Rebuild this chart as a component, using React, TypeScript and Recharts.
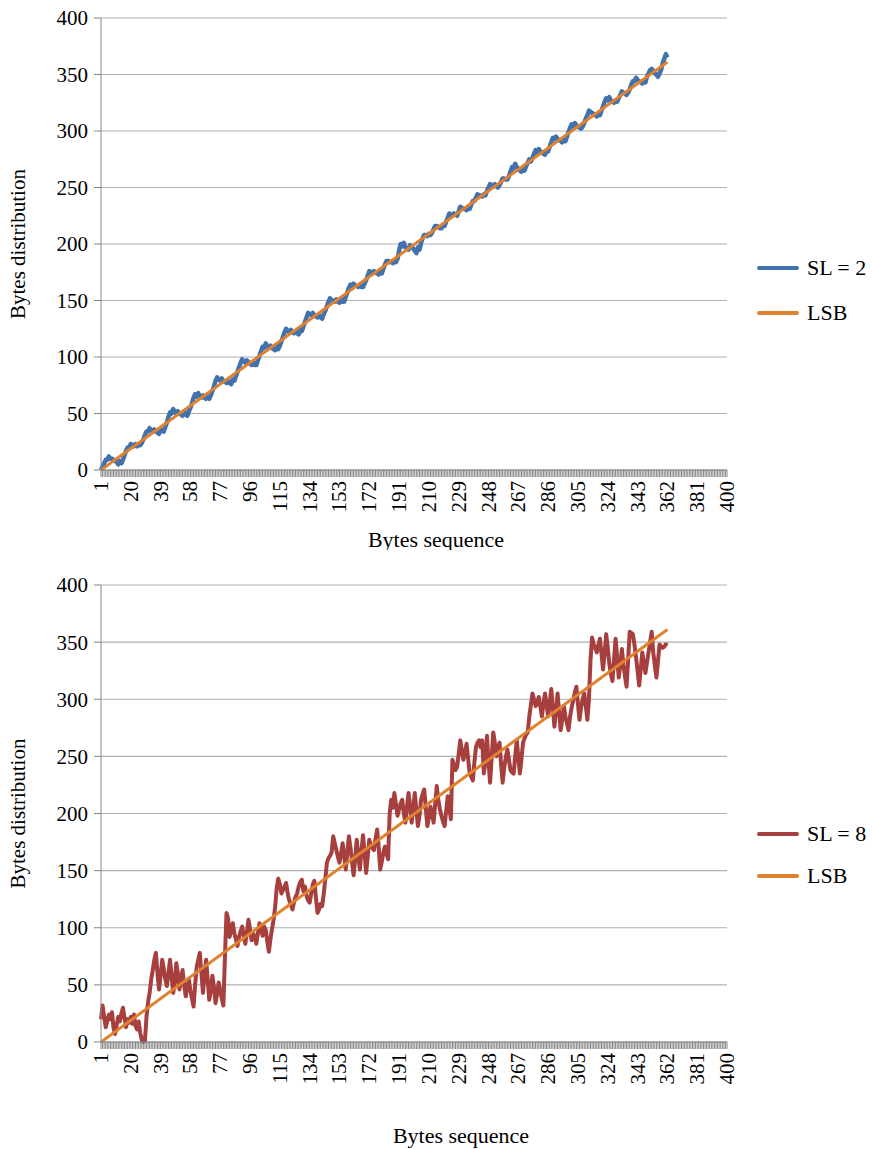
import React from 'react';
import { LineChart, Line, XAxis, YAxis, CartesianGrid, Legend } from 'recharts';

// x categories 1..400, only every 19th one gets a label
const categories = Array.from({ length: 400 }, (_, i) => i + 1);
const xTickLabels = [1, 20, 39, 58, 77, 96, 115, 134, 153, 172, 191, 210, 229, 248, 267, 286, 305, 324, 343, 362, 381, 400];
const yTicks = [0, 50, 100, 150, 200, 250, 300, 350, 400];

const lsb = [
  0, 1, 2, 3, 4, 5, 6, 7, 8, 9, 10, 11, 12, 13, 14, 15, 16, 17, 18, 19,
  20, 21, 22, 23, 24, 25, 26, 27, 28, 29, 30, 31, 32, 33, 34, 35, 36, 37, 38, 39,
  40, 41, 42, 43, 44, 45, 46, 47, 48, 49, 50, 51, 52, 53, 54, 55, 56, 57, 58, 59,
  60, 61, 62, 63, 64, 65, 66, 67, 68, 69, 70, 71, 72, 73, 74, 75, 76, 77, 78, 79,
  80, 81, 82, 83, 84, 85, 86, 87, 88, 89, 90, 91, 92, 93, 94, 95, 96, 97, 98, 99,
  100, 101, 102, 103, 104, 105, 106, 107, 108, 109, 110, 111, 112, 113, 114, 115, 116, 117, 118, 119,
  120, 121, 122, 123, 124, 125, 126, 127, 128, 129, 130, 131, 132, 133, 134, 135, 136, 137, 138, 139,
  140, 141, 142, 143, 144, 145, 146, 147, 148, 149, 150, 151, 152, 153, 154, 155, 156, 157, 158, 159,
  160, 161, 162, 163, 164, 165, 166, 167, 168, 169, 170, 171, 172, 173, 174, 175, 176, 177, 178, 179,
  180, 181, 182, 183, 184, 185, 186, 187, 188, 189, 190, 191, 192, 193, 194, 195, 196, 197, 198, 199,
  200, 201, 202, 203, 204, 205, 206, 207, 208, 209, 210, 211, 212, 213, 214, 215, 216, 217, 218, 219,
  220, 221, 222, 223, 224, 225, 226, 227, 228, 229, 230, 231, 232, 233, 234, 235, 236, 237, 238, 239,
  240, 241, 242, 243, 244, 245, 246, 247, 248, 249, 250, 251, 252, 253, 254, 255, 256, 257, 258, 259,
  260, 261, 262, 263, 264, 265, 266, 267, 268, 269, 270, 271, 272, 273, 274, 275, 276, 277, 278, 279,
  280, 281, 282, 283, 284, 285, 286, 287, 288, 289, 290, 291, 292, 293, 294, 295, 296, 297, 298, 299,
  300, 301, 302, 303, 304, 305, 306, 307, 308, 309, 310, 311, 312, 313, 314, 315, 316, 317, 318, 319,
  320, 321, 322, 323, 324, 325, 326, 327, 328, 329, 330, 331, 332, 333, 334, 335, 336, 337, 338, 339,
  340, 341, 342, 343, 344, 345, 346, 347, 348, 349, 350, 351, 352, 353, 354, 355, 356, 357, 358, 359,
  360, 361,
];

const sl2 = [
  0, 3, 6, 9, 9, 12, 10, 10, 9, 8,
  7, 5, 8, 6, 9, 13, 17, 20, 20, 23,
  22, 21, 23, 21, 23, 22, 24, 27, 31, 34,
  34, 37, 35, 34, 36, 34, 33, 32, 36, 35,
  34, 38, 42, 47, 51, 50, 54, 51, 50, 52,
  50, 49, 48, 52, 49, 48, 52, 55, 59, 64,
  67, 65, 68, 65, 64, 66, 64, 63, 65, 63,
  66, 70, 74, 79, 82, 80, 79, 81, 79, 78,
  77, 79, 77, 76, 80, 79, 83, 87, 91, 95,
  98, 96, 95, 97, 95, 94, 93, 95, 93, 93,
  97, 101, 105, 109, 108, 112, 109, 108, 110, 108,
  107, 106, 110, 107, 110, 114, 118, 122, 125, 123,
  122, 124, 122, 121, 123, 121, 120, 124, 123, 127,
  131, 135, 139, 138, 137, 139, 137, 136, 135, 137,
  135, 134, 138, 141, 145, 149, 152, 150, 150, 149,
  151, 149, 148, 152, 149, 149, 153, 157, 161, 164,
  163, 165, 163, 163, 162, 164, 162, 162, 165, 168,
  172, 176, 175, 174, 176, 175, 174, 173, 175, 174,
  178, 182, 185, 185, 184, 184, 183, 185, 184, 187,
  194, 200, 198, 201, 197, 196, 195, 199, 198, 196,
  194, 192, 197, 195, 201, 205, 208, 208, 207, 209,
  208, 210, 213, 216, 216, 215, 214, 214, 217, 216,
  220, 223, 227, 226, 225, 227, 226, 225, 229, 233,
  232, 231, 231, 230, 232, 231, 235, 238, 238, 241,
  244, 243, 243, 242, 244, 243, 247, 250, 253, 252,
  251, 253, 251, 250, 252, 255, 258, 258, 257, 257,
  260, 264, 268, 267, 271, 268, 267, 265, 264, 266,
  265, 269, 272, 275, 273, 276, 280, 283, 281, 284,
  282, 281, 280, 279, 283, 282, 286, 290, 294, 293,
  295, 293, 292, 291, 290, 292, 291, 295, 299, 303,
  306, 304, 307, 305, 304, 303, 302, 304, 307, 311,
  314, 318, 317, 316, 315, 314, 313, 315, 314, 318,
  322, 326, 329, 327, 330, 327, 326, 325, 327, 326,
  329, 332, 335, 334, 333, 332, 334, 337, 341, 344,
  344, 347, 345, 344, 343, 342, 344, 343, 348, 351,
  354, 355, 353, 351, 350, 348, 351, 354, 360, 364,
  368, 365,
];

const sl8 = [
  20, 32, 22, 13, 18, 24, 20, 26, 12, 7,
  15, 22, 18, 25, 30, 21, 13, 20, 17, 22,
  16, 24, 14, 11, 18, 8, 2, 0, 1, 22,
  35, 43, 55, 63, 72, 78, 60, 46, 58, 72,
  64, 55, 49, 60, 72, 58, 43, 52, 69, 60,
  46, 55, 63, 50, 40, 48, 55, 45, 38, 31,
  50, 66, 72, 78, 60, 43, 58, 72, 55, 37,
  45, 58, 48, 34, 42, 52, 45, 38, 32, 75,
  113, 108, 92, 98, 104, 95, 90, 84, 92, 97,
  101, 93, 86, 96, 107, 99, 89, 95, 92, 86,
  95, 104, 100, 93, 101, 98, 88, 79, 90, 99,
  107, 118, 135, 143, 138, 130, 133, 136, 139, 130,
  124, 120, 116, 122, 127, 130, 136, 140, 142, 132,
  136, 128, 124, 122, 130, 138, 141, 126, 113, 116,
  121, 119, 130, 143, 157, 161, 163, 166, 180, 174,
  168, 162, 157, 165, 174, 163, 151, 166, 180, 170,
  158, 146, 160, 177, 163, 151, 167, 181, 165, 148,
  162, 177, 172, 170, 168, 178, 186, 170, 151, 158,
  166, 171, 165, 160, 200, 212, 205, 218, 208, 198,
  204, 209, 212, 200, 192, 205, 218, 207, 192, 204,
  218, 203, 189, 198, 212, 217, 221, 205, 189, 197,
  206, 199, 192, 208, 224, 212, 204, 198, 193, 189,
  202, 215, 206, 195, 247, 243, 238, 241, 252, 264,
  255, 247, 253, 261, 248, 235, 232, 229, 245, 258,
  262, 264, 258, 264, 235, 246, 268, 245, 227, 249,
  271, 262, 250, 256, 262, 243, 227, 240, 249, 256,
  247, 238, 236, 235, 250, 264, 249, 235, 248, 262,
  266, 269, 271, 285, 295, 305, 300, 294, 297, 302,
  294, 285, 296, 305, 295, 285, 297, 309, 292, 276,
  290, 305, 289, 273, 282, 294, 285, 279, 273, 285,
  293, 299, 306, 311, 296, 282, 293, 300, 305, 294,
  282, 300, 334, 354, 348, 345, 341, 347, 353, 340,
  326, 340, 357, 345, 331, 322, 316, 335, 353, 336,
  319, 330, 344, 330, 320, 311, 335, 359, 358, 357,
  348, 337, 325, 312, 326, 341, 332, 323, 332, 341,
  350, 359, 341, 330, 319, 333, 348, 346, 345, 346,
  348, 347,
];

const FONT = "'Liberation Serif', 'DejaVu Serif', serif";
const AXIS = '#868686';
const GRID = '#b0b0b0';
const ORANGE = '#e0812f';

const buildRows = (series: number[]) =>
  categories.map((c, i) => ({
    idx: c,
    sl: i < series.length ? series[i] : null,
    lsb: i < lsb.length ? lsb[i] : null,
  }));

const XTick = (props: any) => {
  const { x, y, payload } = props;
  if (!xTickLabels.includes(payload.value)) return <g />;
  return (
    <text
      x={x}
      y={y}
      transform={`rotate(-90 ${x} ${y})`}
      textAnchor="end"
      dominantBaseline="central"
      style={{ fontFamily: FONT, fontSize: 21 }}
      fill="#000"
    >
      {payload.value}
    </text>
  );
};

const XTitle = (props: any) => {
  const { viewBox, value, dx, cy } = props;
  return (
    <text
      x={viewBox.x + viewBox.width / 2 + dx}
      y={viewBox.y + cy}
      textAnchor="middle"
      dominantBaseline="central"
      style={{ fontFamily: FONT, fontSize: 22 }}
      fill="#000"
    >
      {value}
    </text>
  );
};

const LegendBox = ({ items, rowHeight }: { items: { name: string; color: string }[]; rowHeight: number }) => (
  <div style={{ fontFamily: FONT, fontSize: 22, color: '#000' }}>
    {items.map((it) => (
      <div key={it.name} style={{ height: rowHeight, display: 'flex', alignItems: 'center' }}>
        <span
          style={{
            display: 'inline-block',
            width: 42,
            height: 4,
            borderRadius: 2,
            background: it.color,
            marginRight: 8,
          }}
        />
        <span>{it.name}</span>
      </div>
    ))}
  </div>
);

type PanelProps = {
  series: number[];
  name: string;
  color: string;
  width: number;
  height: number;
  top: number;
  xAxisHeight: number;
  xTitleDx: number;
  xTitleY: number;
  legendTop: number;
  legendRow: number;
  slWidth: number;
};

const Panel = (p: PanelProps) => {
  const rows = buildRows(p.series);
  return (
    <LineChart
      width={p.width}
      height={p.height}
      data={rows}
      margin={{ top: p.top, right: 30, bottom: 0, left: 0 }}
    >
      <CartesianGrid vertical={false} stroke={GRID} strokeWidth={1.2} />
      <XAxis
        dataKey="idx"
        interval={0}
        height={p.xAxisHeight}
        stroke={AXIS}
        tickSize={7}
        tickMargin={4}
        tick={<XTick />}
        label={<XTitle value="Bytes sequence" dx={p.xTitleDx} cy={p.xTitleY} />}
      />
      <YAxis
        width={101}
        domain={[0, 400]}
        ticks={yTicks}
        stroke={AXIS}
        tickSize={7}
        tickMargin={6}
        tick={{ fill: '#000', fontSize: 21, style: { fontFamily: FONT } }}
        label={{
          value: 'Bytes distribution',
          angle: -90,
          position: 'insideLeft',
          offset: 18,
          style: { textAnchor: 'middle', fontFamily: FONT, fontSize: 21, fill: '#000' },
        }}
      />
      <Legend
        layout="vertical"
        align="right"
        verticalAlign="top"
        wrapperStyle={{ left: 757, right: 'auto', top: p.legendTop, width: 115 }}
        content={() => (
          <LegendBox
            rowHeight={p.legendRow}
            items={[
              { name: p.name, color: p.color },
              { name: 'LSB', color: ORANGE },
            ]}
          />
        )}
      />
      <Line
        type="linear"
        dataKey="sl"
        name={p.name}
        stroke={p.color}
        strokeWidth={p.slWidth}
        strokeLinejoin="round"
        dot={false}
        activeDot={false}
        isAnimationActive={false}
      />
      <Line
        type="linear"
        dataKey="lsb"
        name="LSB"
        stroke={ORANGE}
        strokeWidth={3}
        dot={false}
        activeDot={false}
        isAnimationActive={false}
      />
    </LineChart>
  );
};

export default function App() {
  return (
    <div style={{ position: 'absolute', left: 0, top: 0, width: 872, height: 1149, background: '#fff' }}>
      <div style={{ position: 'absolute', left: 0, top: 0 }}>
        <Panel
          series={sl2}
          name="SL = 2"
          color="#4272ab"
          width={872}
          height={550}
          top={18}
          xAxisHeight={80}
          xTitleDx={22}
          xTitleY={69}
          legendTop={245}
          legendRow={45}
          slWidth={4.5}
        />
      </div>
      <div style={{ position: 'absolute', left: 0, top: 560 }}>
        <Panel
          series={sl8}
          name="SL = 8"
          color="#a63f3d"
          width={872}
          height={589}
          top={25}
          xAxisHeight={107}
          xTitleDx={47}
          xTitleY={93}
          legendTop={253}
          legendRow={42}
          slWidth={4}
        />
      </div>
    </div>
  );
}
